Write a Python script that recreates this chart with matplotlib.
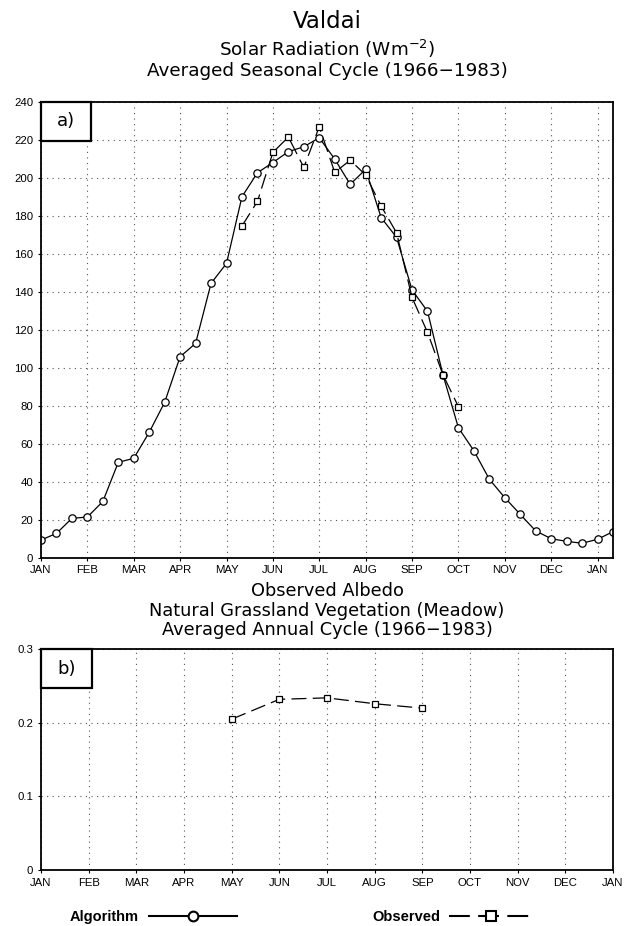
import matplotlib
matplotlib.use("Agg")
import matplotlib.pyplot as plt
from matplotlib.lines import Line2D
from matplotlib.patches import Rectangle

# ---------------- data ----------------
# Panel a: dekad (10-day) index from 1 Jan, 38 points
dekads = list(range(38))
algorithm_rad = [9.3, 12.8, 20.7, 21.4, 29.6, 50.2, 52.3, 66.0, 81.8, 105.8,
                 112.8, 144.4, 154.9, 190.0, 202.6, 208.0, 213.7, 216.3, 221.0, 209.8,
                 196.5, 204.4, 179.0, 168.6, 140.9, 129.7, 96.3, 68.4, 56.3, 41.3,
                 31.6, 22.8, 14.1, 10.0, 8.6, 7.6, 9.7, 13.7]
obs_dekads = list(range(13, 28))
observed_rad = [174.6, 187.5, 213.3, 221.4, 205.4, 226.8, 202.8, 209.2, 201.4, 185.1,
                171.0, 137.0, 118.6, 96.3, 79.5]

# Panel b: monthly albedo (month index from Jan = 0)
albedo_months = [4, 5, 6, 7, 8]
observed_albedo = [0.205, 0.232, 0.234, 0.226, 0.220]

month_labels = ["JAN", "FEB", "MAR", "APR", "MAY", "JUN", "JUL", "AUG", "SEP",
                "OCT", "NOV", "DEC", "JAN"]
rad_ticks = list(range(0, 241, 20))
albedo_ticks = [0, 0.1, 0.2, 0.3]
albedo_ticklabels = ["0", "0.1", "0.2", "0.3"]

# ---------------- figure ----------------
W, H = 628, 926
fig = plt.figure(figsize=(W / 100, H / 100), dpi=100)
plt.rcParams['font.family'] = ['DejaVu Sans']
tick_family = ['Liberation Sans', 'DejaVu Sans']

def fx(px):
    return px / W

def fy(py):
    return 1 - py / H

circle_style = dict(color='black', lw=0.9, marker='o', ms=5.3, mfc='white',
                    mec='black', mew=0.9)
square_style = dict(color='black', lw=0.9, marker='s', ms=5.0, mfc='white',
                    mec='black', mew=0.9, dashes=(12, 5))

def style_axes(ax):
    for s in ax.spines.values():
        s.set_linewidth(1.3)
    ax.tick_params(direction='out', length=2.5, width=0.8, pad=3)
    ax.grid(True, linestyle=(0, (1, 4)), color='#555555', linewidth=0.8)
    for lab in ax.get_xticklabels() + ax.get_yticklabels():
        lab.set_fontfamily(tick_family)
        lab.set_fontsize(8.2)

L, R = 41, 613
AW = R - L

# Panel a
T1, B1 = 101.7, 557.7
ax1 = fig.add_axes([fx(L), fy(B1), AW / W, (B1 - T1) / H])
ax1.plot(dekads, algorithm_rad, **circle_style)
ax1.plot(obs_dekads, observed_rad, **square_style)
ax1.set_xlim(0, 37)
ax1.set_ylim(0, 240)
ax1.set_xticks(list(range(0, 37, 3)))
ax1.set_xticklabels(month_labels)
ax1.set_yticks(rad_ticks)
ax1.set_yticklabels([str(v) for v in rad_ticks])
style_axes(ax1)
ax1.add_patch(Rectangle((0, 1), 50 / AW, -(141 - T1) / (B1 - T1), transform=ax1.transAxes,
                        facecolor='white', edgecolor='black', lw=1.6, zorder=5,
                        clip_on=False))
ax1.text(25 / AW, 1 - 19.5 / (B1 - T1), "a)", transform=ax1.transAxes, ha='center',
         va='center', fontsize=13, zorder=6)

# Panel b
T2, B2 = 649.3, 870
ax2 = fig.add_axes([fx(L), fy(B2), AW / W, (B2 - T2) / H])
ax2.plot(albedo_months, observed_albedo, **square_style)
ax2.set_xlim(0, 12)
ax2.set_ylim(0, 0.3)
ax2.set_xticks(list(range(13)))
ax2.set_xticklabels(month_labels)
ax2.set_yticks(albedo_ticks)
ax2.set_yticklabels(albedo_ticklabels)
style_axes(ax2)
ax2.add_patch(Rectangle((0, 1), 50.7 / AW, -(688.3 - T2) / (B2 - T2), transform=ax2.transAxes,
                        facecolor='white', edgecolor='black', lw=1.6, zorder=5,
                        clip_on=False))
ax2.text(25.3 / AW, 1 - 19.5 / (B2 - T2), "b)", transform=ax2.transAxes, ha='center',
         va='center', fontsize=13, zorder=6)

# Titles
cx = (L + R) / 2
fig.text(fx(cx), fy(22), "Valdai", ha='center', va='center', fontsize=16.5)
fig.text(fx(cx), fy(49), "Solar Radiation (Wm$^{-2}$)", ha='center', va='center',
         fontsize=13.2)
fig.text(fx(cx), fy(71), "Averaged Seasonal Cycle (1966\u22121983)", ha='center',
         va='center', fontsize=13.2)
fig.text(fx(cx), fy(591), "Observed Albedo", ha='center', va='center', fontsize=12.8)
fig.text(fx(cx), fy(611), "Natural Grassland Vegetation (Meadow)", ha='center',
         va='center', fontsize=12.8)
fig.text(fx(cx), fy(630), "Averaged Annual Cycle (1966\u22121983)", ha='center',
         va='center', fontsize=12.8)

# Legend
h_alg = Line2D([], [], **{**circle_style, 'lw': 1.5, 'ms': 7, 'mew': 1.5})
h_obs = Line2D([], [], **{**square_style, 'lw': 1.5, 'ms': 7, 'mew': 1.5,
                          'dashes': (10, 4)})
legprop = {'weight': 'bold', 'size': 10.5, 'family': ['Liberation Sans', 'DejaVu Sans']}
fig.legend([h_alg], ["Algorithm"], loc='center left',
           bbox_to_anchor=(fx(70), fy(917)), frameon=False, markerfirst=False,
           handlelength=6.0, handletextpad=0.7, borderpad=0, borderaxespad=0,
           prop=legprop)
fig.legend([h_obs], ["Observed"], loc='center left',
           bbox_to_anchor=(fx(372), fy(917)), frameon=False, markerfirst=False,
           handlelength=5.8, handletextpad=0.6, borderpad=0, borderaxespad=0,
           prop=legprop)

fig.savefig("out.png", dpi=100)
